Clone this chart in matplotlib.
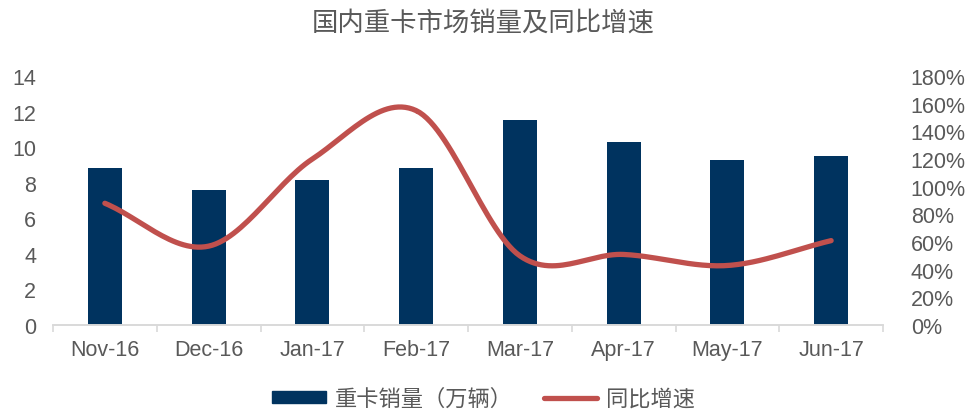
import numpy as np
import matplotlib.pyplot as plt
from matplotlib.patches import Patch
from matplotlib.lines import Line2D
from matplotlib.ticker import FuncFormatter

plt.rcParams['font.family'] = ['Liberation Sans', 'Noto Sans CJK SC', 'DejaVu Sans']

months = ['Nov-16', 'Dec-16', 'Jan-17', 'Feb-17', 'Mar-17', 'Apr-17', 'May-17', 'Jun-17']
sales = [8.82, 7.58, 8.15, 8.82, 11.52, 10.28, 9.27, 9.49]     # 万辆
growth = [0.88, 0.57, 1.20, 1.55, 0.50, 0.51, 0.43, 0.61]     # 同比增速

BAR_COLOR = '#00335f'
LINE_COLOR = '#c0504d'
TEXT_COLOR = '#595959'


def catmull_rom(x, y, n=30):
    """Smooth curve through the points, similar to Excel's smoothed line."""
    x = np.asarray(x, float)
    y = np.asarray(y, float)
    px = np.concatenate([[2 * x[0] - x[1]], x, [2 * x[-1] - x[-2]]])
    py = np.concatenate([[2 * y[0] - y[1]], y, [2 * y[-1] - y[-2]]])
    xs, ys = [], []
    t = np.linspace(0, 1, n)
    for i in range(1, len(px) - 2):
        for p, out in ((px, xs), (py, ys)):
            p0, p1, p2, p3 = p[i - 1], p[i], p[i + 1], p[i + 2]
            out.extend(0.5 * (2 * p1 + (-p0 + p2) * t
                              + (2 * p0 - 5 * p1 + 4 * p2 - p3) * t ** 2
                              + (-p0 + 3 * p1 - 3 * p2 + p3) * t ** 3))
    return np.array(xs), np.array(ys)


fig = plt.figure(figsize=(9.67, 4.14), dpi=100)
ax = fig.add_axes([53 / 967, 88 / 414, 830 / 967, 249 / 414])
ax2 = ax.twinx()

x = np.arange(len(months))
ax.bar(x, sales, width=0.33, color=BAR_COLOR, zorder=2)
ax.set_xlim(-0.5, len(months) - 0.5)
ax.set_ylim(0, 14)
ax.set_yticks(range(0, 15, 2))

sx, sy = catmull_rom(x, growth)
ax2.plot(sx, sy, color=LINE_COLOR, lw=3.8, solid_capstyle='round', zorder=3)
ax2.set_ylim(0, 1.8)
ax2.set_yticks(np.arange(0, 1.81, 0.2))
ax2.yaxis.set_major_formatter(FuncFormatter(lambda v, p: f'{v * 100:.0f}%'))

for a in (ax, ax2):
    for s in ('top', 'left', 'right'):
        a.spines[s].set_visible(False)
    a.spines['bottom'].set_color('#d9d9d9')
    a.spines['bottom'].set_linewidth(1.2)
    a.tick_params(axis='y', length=0, labelsize=15.5, colors=TEXT_COLOR)

ax.tick_params(axis='y', pad=12)
ax2.tick_params(axis='y', pad=20)

ax.set_xticks(np.arange(-0.5, len(months), 1))
ax.set_xticklabels([])
ax.set_xticks(x, minor=True)
ax.set_xticklabels(months, minor=True)
ax.tick_params(axis='x', which='major', length=5, color='#d9d9d9', width=1.2)
ax.tick_params(axis='x', which='minor', length=0, labelsize=15.5, colors=TEXT_COLOR, pad=10)

fig.suptitle('国内重卡市场销量及同比增速', y=0.975, fontsize=19,
             color=TEXT_COLOR, family=['Noto Sans CJK SC', 'DejaVu Sans'])

handles = [Patch(color=BAR_COLOR), Line2D([], [], color=LINE_COLOR, lw=3.8, solid_capstyle='round')]
labels = ['重卡销量（万辆）', '同比增速']
fig.legend(handles, labels, loc='center', bbox_to_anchor=(0.5, 0.035), ncol=2, frameon=False,
           prop={'family': ['Noto Sans CJK SC', 'DejaVu Sans'], 'size': 16},
           labelcolor=TEXT_COLOR, handlelength=2.4, handleheight=0.45, columnspacing=1.4,
           handletextpad=0.4)

fig.savefig('out.png', dpi=100)
